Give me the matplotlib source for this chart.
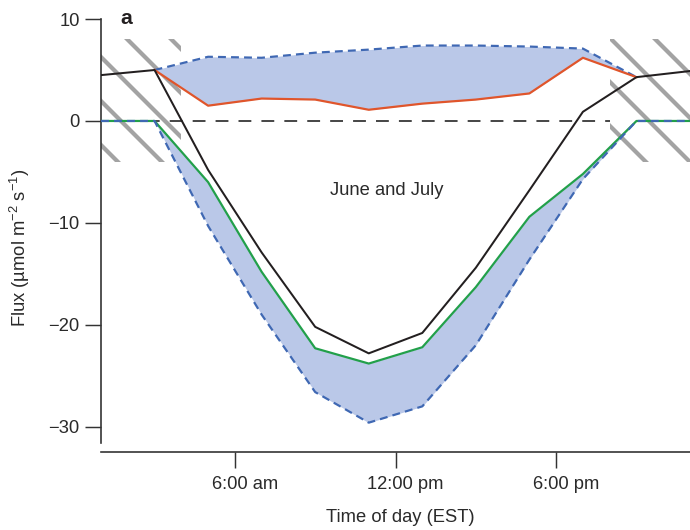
import matplotlib
matplotlib.use('Agg')
import matplotlib.pyplot as plt
import matplotlib.transforms as mtransforms
from matplotlib.patches import Rectangle

# time of day (EST), 2-h bins
hours = [1, 3, 5, 7, 9, 11, 13, 15, 17, 19, 21, 23]
net_flux = [4.5, 5.0, -4.8, -12.9, -20.2, -22.8, -20.8, -14.4, -6.8, 0.9, 4.3, 4.9]
uptake = [0, 0, -6.0, -14.8, -22.3, -23.8, -22.2, -16.3, -9.4, -5.2, 0, 0]
uptake_low = [0, 0, -10.3, -19.0, -26.6, -29.6, -28.0, -22.0, -13.6, -5.7, 0, 0]

hours_day = [3, 5, 7, 9, 11, 13, 15, 17, 19, 21]
resp = [5.0, 1.5, 2.2, 2.1, 1.1, 1.7, 2.1, 2.7, 6.2, 4.3]
resp_high = [5.0, 6.3, 6.2, 6.7, 7.0, 7.4, 7.4, 7.3, 7.1, 4.3]

night_spans = [(1, 4), (20, 23)]
night_y = (-4, 8)

tick_hours = [6, 12, 18]
tick_labels = ['6:00 am', '12:00 pm', '6:00 pm']
y_ticks = [10, 0, -10, -20, -30]

plt.rcParams['font.family'] = ['Liberation Sans', 'DejaVu Sans']
plt.rcParams['mathtext.fontset'] = 'custom'
plt.rcParams['mathtext.rm'] = 'Liberation Sans'
plt.rcParams['mathtext.it'] = 'Liberation Sans:italic'
plt.rcParams['mathtext.default'] = 'regular'
plt.rcParams['hatch.linewidth'] = 2.3
plt.rcParams['hatch.color'] = '#a3a3a3'
plt.rcParams['lines.scale_dashes'] = False

DPI = 132
fig = plt.figure(figsize=(690 / DPI, 530 / DPI), dpi=DPI)
ax = fig.add_axes([0.1464, 0.1477, 0.8536, 0.8279])

fill_col = '#bac8e8'
blue = '#3f68b3'
text_col = '#2a2a2a'

# shaded ranges
ax.fill_between(hours_day, resp, resp_high, color=fill_col, lw=0, zorder=2)
ax.fill_between(hours, uptake_low, uptake, color=fill_col, lw=0, zorder=2)

# night periods
for x0, x1 in night_spans:
    ax.add_patch(Rectangle((x0, night_y[0]), x1 - x0, night_y[1] - night_y[0],
                           facecolor='none', edgecolor='#a3a3a3', lw=0,
                           hatch='\\', zorder=1))

ax.hlines(0, hours[0], night_spans[1][0], colors='#3a3a3a', lw=1.0,
          linestyles=(0, (7, 5.5)), zorder=2.5)

ax.plot(hours, uptake, color='#22a04a', lw=1.2, zorder=3)
ax.plot(hours, uptake_low, color=blue, lw=1.2, ls=(0, (4.3, 2.8)), zorder=4)
ax.plot(hours_day, resp_high, color=blue, lw=1.2, ls=(0, (4.3, 2.8)), zorder=4)
ax.plot(hours_day, resp, color='#e0552b', lw=1.2, zorder=5)
ax.plot(hours, net_flux, color='#231f20', lw=1.1, zorder=6)

ax.set_xlim(1, 23)
ax.set_ylim(-32.45, 10.6)

for s in ['top', 'right']:
    ax.spines[s].set_visible(False)
for s in ['left', 'bottom']:
    ax.spines[s].set_color('#333333')
    ax.spines[s].set_linewidth(0.9)
ax.spines['left'].set_bounds(-31.6, 10)

ax.set_yticks(y_ticks)
ax.set_xticks(tick_hours)
ax.set_xticklabels(tick_labels)
ax.tick_params(axis='both', direction='out', length=8.7, width=0.8,
               color='#333333', labelsize=10, labelcolor=text_col)
ax.tick_params(axis='y', pad=3)
ax.tick_params(axis='x', pad=4.5)

shift = mtransforms.ScaledTranslation(10 / DPI, 0, fig.dpi_scale_trans)
for lab in ax.get_xticklabels():
    lab.set_transform(lab.get_transform() + shift)

ax.set_xlabel('Time of day (EST)', fontsize=10, color=text_col)
ax.xaxis.set_label_coords(0.509, -0.131)
ax.set_ylabel('Flux (µmol m$^{−2}$ s$^{−1}$)', fontsize=10, color=text_col)
ax.yaxis.set_label_coords(-0.117, 0.464)

ax.text(11.68, -7.27, 'June and July', fontsize=10, color=text_col,
        ha='center', va='baseline')
ax.text(1.94, 9.5, 'a', fontsize=11.5, fontweight='bold', color='#231f20',
        ha='center', va='baseline')

fig.savefig('out.png', dpi=DPI)
